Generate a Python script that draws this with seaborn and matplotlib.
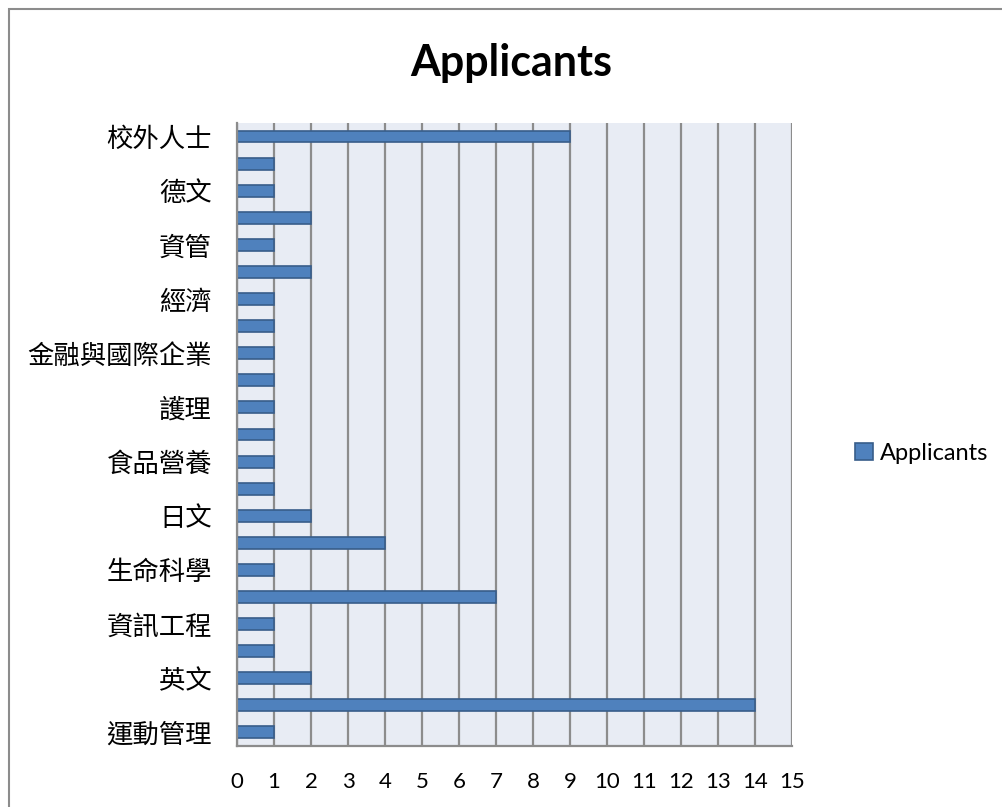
import numpy as np
import pandas as pd
import matplotlib.pyplot as plt
import seaborn as sns
from matplotlib.patches import Rectangle

# Categories top to bottom; only every other one has a visible label
categories = ['校外人士', '(2)', '德文', '(4)', '資管', '(6)', '經濟', '(8)',
              '金融與國際企業', '(10)', '護理', '(12)', '食品營養', '(14)',
              '日文', '(16)', '生命科學', '(18)', '資訊工程', '(20)',
              '英文', '(22)', '運動管理']
applicants = [9, 1, 1, 2, 1, 2, 1, 1, 1, 1, 1, 1, 1, 1, 2, 4, 1, 7, 1, 1, 2, 14, 1]
x_ticks = list(range(0, 16))

df = pd.DataFrame({'category': categories, 'Applicants': applicants})

sns.set_style('white')
plt.rcParams['font.family'] = ['Noto Sans CJK TC', 'DejaVu Sans']
plt.rcParams['text.color'] = 'black'
plt.rcParams['xtick.color'] = 'black'
plt.rcParams['ytick.color'] = 'black'

fig = plt.figure(figsize=(10.02, 8.07), dpi=100)
ax = fig.add_axes([0.2365, 0.0756, 0.5539, 0.772])

sns.barplot(data=df, y='category', x='Applicants', orient='h', ax=ax,
            color='#4F81BD', edgecolor='#385D8A', linewidth=1.2,
            width=0.44, saturation=1, label='Applicants')

ax.set_facecolor('#E8ECF4')
ax.set_xlim(0, 15)
ax.set_ylim(len(categories) - 0.5, -0.5)
ax.set_xticks(x_ticks)
ax.set_xticklabels([str(t) for t in x_ticks], fontsize=16, family='Lato')
ax.tick_params(axis='x', length=0, pad=19)
ax.tick_params(axis='y', length=0, pad=18)
ax.set_yticks(range(len(categories)))
ax.set_yticklabels([c if not c.startswith('(') else '' for c in categories],
                   fontsize=19, fontweight='light')
ax.set_xlabel('')
ax.set_ylabel('')

ax.grid(axis='x', color='#8C8C8C', linewidth=1.6)
ax.set_axisbelow(True)
for side in ['top', 'right']:
    ax.spines[side].set_visible(False)
for side in ['left', 'bottom']:
    ax.spines[side].set_color('#8C8C8C')
    ax.spines[side].set_linewidth(1.6)

fig.text(0.51, 0.922, 'Applicants', ha='center', va='center',
         fontsize=31, fontweight='bold', family='Lato')

leg = ax.legend(loc='center left', bbox_to_anchor=(1.075, 0.47), frameon=False,
                prop={'family': 'Lato', 'size': 17}, handlelength=0.75,
                handleheight=0.75, handletextpad=0.3)

# outer chart border
fig.patches.append(Rectangle((9 / 1002, -0.1), 1.2, 1 - 9 / 807 + 0.1,
                             transform=fig.transFigure, fill=False,
                             edgecolor='#8C8C8C', linewidth=1.5))

fig.savefig('out.png', dpi=100)
